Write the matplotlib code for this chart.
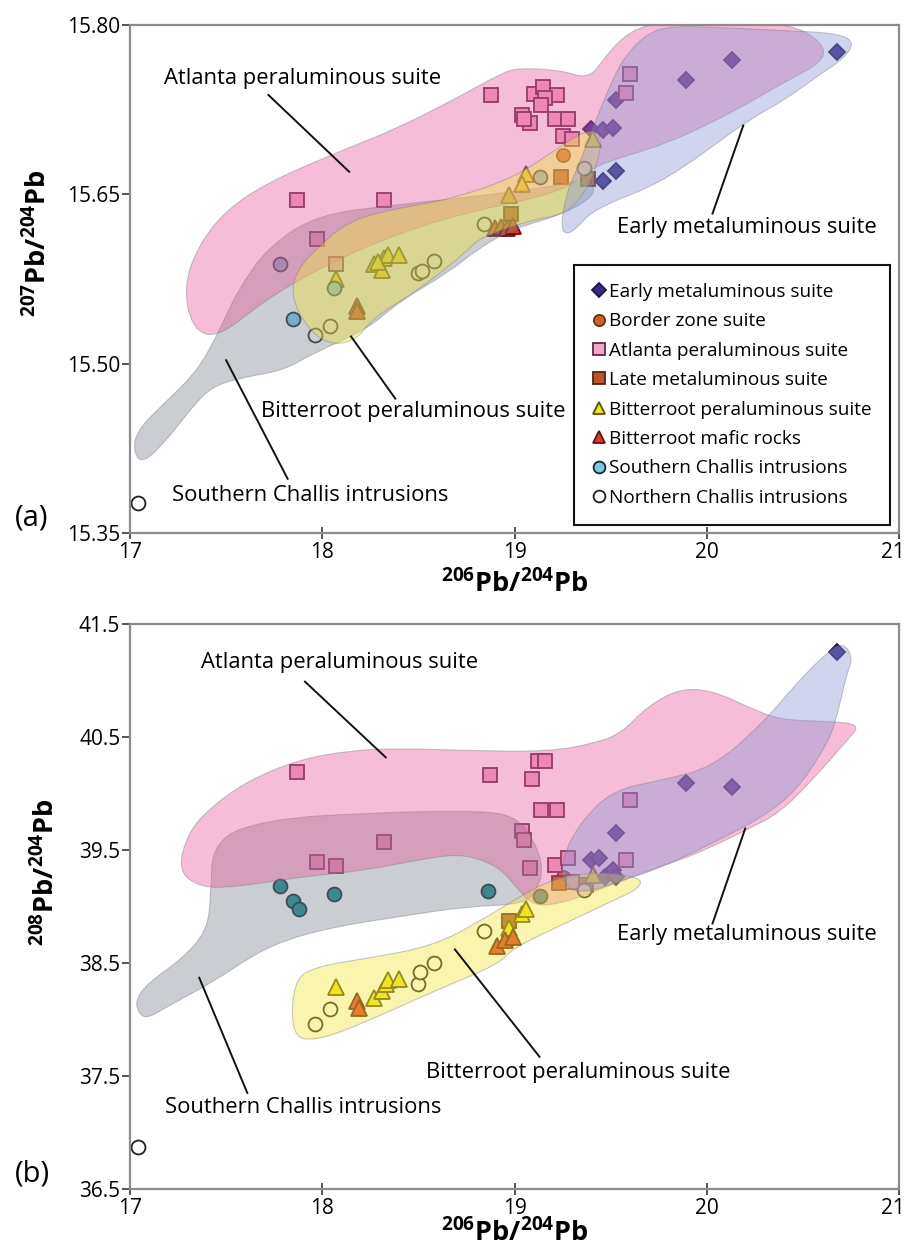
import matplotlib
matplotlib.use("Agg")
import matplotlib.pyplot as plt
import matplotlib.transforms as mtransforms
import numpy as np
from matplotlib.path import Path
from matplotlib.patches import PathPatch

plt.rcParams['font.family'] = ['Open Sans', 'DejaVu Sans']
plt.rcParams['mathtext.fontset'] = 'custom'
plt.rcParams['mathtext.rm'] = 'Open Sans'
plt.rcParams['mathtext.bf'] = 'Open Sans:bold'

# ---------------- data, panel (a): 206Pb/204Pb vs 207Pb/204Pb ----------------
early_a_x = [20.68, 20.13, 19.89, 19.53, 19.40, 19.46, 19.51, 19.53, 19.46]
early_a_y = [15.776, 15.769, 15.751, 15.734, 15.708, 15.707, 15.709, 15.671, 15.662]
border_a_x = [19.25]
border_a_y = [15.685]
atlanta_a_x = [18.88, 17.87, 18.32, 17.97, 18.07, 19.10, 19.15, 19.22, 19.16, 19.14,
               19.04, 19.08, 19.05, 19.21, 19.28, 19.25, 19.30, 19.60, 19.58]
atlanta_a_y = [15.738, 15.645, 15.645, 15.610, 15.588, 15.739, 15.745, 15.738, 15.735, 15.729,
               15.720, 15.713, 15.717, 15.717, 15.717, 15.702, 15.699, 15.757, 15.740]
late_a_x = [19.24, 19.38, 18.98]
late_a_y = [15.665, 15.664, 15.633]
bitter_a_x = [19.06, 19.04, 19.41, 18.97, 18.27, 18.32, 18.34, 18.40, 18.31, 18.29, 18.07]
bitter_a_y = [15.668, 15.659, 15.699, 15.649, 15.588, 15.594, 15.596, 15.596, 15.583, 15.590, 15.575]
mafic_a_x = [18.18, 18.18, 18.90, 18.93, 18.96, 18.99]
mafic_a_y = [15.551, 15.547, 15.620, 15.621, 15.620, 15.622]
schallis_a_x = [17.78, 17.85, 18.06, 19.13]
schallis_a_y = [15.588, 15.540, 15.567, 15.665]
nchallis_a_x = [17.04, 17.96, 18.04, 18.50, 18.52, 18.58, 18.84, 19.36]
nchallis_a_y = [15.377, 15.525, 15.533, 15.580, 15.582, 15.591, 15.624, 15.673]

# ---------------- data, panel (b): 206Pb/204Pb vs 208Pb/204Pb ----------------
early_b_x = [20.68, 19.89, 20.13, 19.53, 19.40, 19.44, 19.47, 19.51, 19.53]
early_b_y = [41.25, 40.09, 40.06, 39.65, 39.41, 39.43, 39.26, 39.32, 39.26]
border_b_x = [19.25]
border_b_y = [39.26]
atlanta_b_x = [17.87, 18.87, 19.09, 19.12, 19.16, 19.14, 19.22, 19.04, 19.05, 19.08,
               18.32, 17.97, 18.07, 19.21, 19.28, 19.60, 19.58, 19.30]
atlanta_b_y = [40.19, 40.16, 40.13, 40.29, 40.29, 39.85, 39.85, 39.67, 39.59, 39.34,
               39.57, 39.39, 39.36, 39.37, 39.43, 39.94, 39.41, 39.22]
late_b_x = [18.97, 19.23, 19.37]
late_b_y = [38.87, 39.21, 39.19]
bitter_b_x = [18.07, 18.27, 18.31, 18.33, 18.34, 18.40, 18.97, 19.04, 19.06, 19.41]
bitter_b_y = [38.29, 38.19, 38.25, 38.31, 38.35, 38.36, 38.81, 38.93, 38.98, 39.28]
mafic_b_x = [18.18, 18.19, 18.91, 18.95, 18.99]
mafic_b_y = [38.16, 38.10, 38.65, 38.70, 38.73]
schallis_b_x = [17.78, 17.85, 17.88, 18.06, 18.86, 19.13]
schallis_b_y = [39.18, 39.05, 38.98, 39.11, 39.14, 39.09]
nchallis_b_x = [17.04, 17.96, 18.04, 18.50, 18.51, 18.58, 18.84, 19.36]
nchallis_b_y = [36.87, 37.96, 38.09, 38.31, 38.42, 38.50, 38.78, 39.15]

# ---------------- field outlines ----------------
pink_a = [(17.28, 15.570), (17.36, 15.606), (17.50, 15.636), (17.71, 15.660), (18.06, 15.686),
          (18.40, 15.709), (18.75, 15.740), (18.92, 15.756), (19.01, 15.762), (19.24, 15.760),
          (19.39, 15.752), (19.48, 15.774), (19.60, 15.795), (19.79, 15.804), (20.22, 15.804),
          (20.49, 15.798), (20.62, 15.780), (20.59, 15.766), (20.40, 15.749), (20.22, 15.731),
          (20.02, 15.713), (19.79, 15.695), (19.56, 15.683), (19.41, 15.674), (19.30, 15.658),
          (19.10, 15.646), (18.80, 15.636), (18.40, 15.616), (18.00, 15.586), (17.70, 15.556),
          (17.45, 15.522), (17.32, 15.532)]
gray_a = [(17.03, 15.440), (17.19, 15.467), (17.33, 15.490), (17.42, 15.514), (17.50, 15.543),
          (17.57, 15.567), (17.71, 15.602), (17.97, 15.632), (18.40, 15.641), (18.84, 15.649),
          (19.20, 15.657), (19.38, 15.664), (19.43, 15.650), (19.25, 15.632), (19.00, 15.620),
          (18.82, 15.603), (18.65, 15.580), (18.40, 15.555), (18.23, 15.530), (17.95, 15.509),
          (17.80, 15.494), (17.59, 15.488), (17.43, 15.480), (17.33, 15.463), (17.19, 15.432),
          (17.07, 15.412), (17.02, 15.420)]
yellow_a = [(17.84, 15.567), (17.88, 15.585), (17.97, 15.602), (18.14, 15.627), (18.40, 15.638),
            (18.65, 15.645), (18.99, 15.664), (19.20, 15.688), (19.38, 15.708), (19.46, 15.702),
            (19.42, 15.670), (19.34, 15.645), (19.25, 15.632), (19.08, 15.627), (18.82, 15.612),
            (18.75, 15.599), (18.49, 15.564), (18.34, 15.549), (18.23, 15.534), (18.20, 15.525),
            (18.09, 15.516), (17.97, 15.523), (17.87, 15.546)]
blue_a = [(19.24, 15.621), (19.27, 15.651), (19.33, 15.674), (19.39, 15.701), (19.48, 15.740),
          (19.56, 15.769), (19.67, 15.790), (19.79, 15.799), (20.05, 15.798), (20.40, 15.795),
          (20.66, 15.793), (20.77, 15.786), (20.72, 15.771), (20.57, 15.754), (20.40, 15.733),
          (20.22, 15.716), (20.05, 15.695), (19.88, 15.674), (19.70, 15.656), (19.53, 15.645),
          (19.39, 15.633), (19.33, 15.621), (19.27, 15.614)]

pink_b = [(17.25, 39.32), (17.30, 39.65), (17.42, 39.88), (17.62, 40.12), (17.88, 40.30),
          (18.14, 40.38), (18.40, 40.40), (18.75, 40.38), (19.18, 40.37), (19.43, 40.45),
          (19.56, 40.54), (19.69, 40.77), (19.86, 40.93), (20.03, 40.91), (20.21, 40.77),
          (20.38, 40.65), (20.64, 40.64), (20.80, 40.61), (20.73, 40.47), (20.55, 40.12),
          (20.38, 39.83), (20.21, 39.68), (20.03, 39.53), (19.86, 39.41), (19.60, 39.26),
          (19.43, 39.14), (19.25, 39.03), (19.10, 39.00), (19.01, 39.17), (18.92, 39.35),
          (18.75, 39.46), (18.58, 39.44), (18.23, 39.32), (17.88, 39.26), (17.54, 39.17),
          (17.36, 39.17)]
gray_b = [(17.02, 38.15), (17.09, 38.32), (17.28, 38.55), (17.40, 38.79), (17.42, 39.08),
          (17.43, 39.59), (17.71, 39.77), (18.23, 39.83), (18.84, 39.85), (19.01, 39.79),
          (19.10, 39.59), (19.15, 39.35), (19.12, 39.15), (19.05, 39.02), (18.75, 39.00),
          (18.40, 38.91), (18.06, 38.82), (17.80, 38.70), (17.62, 38.55), (17.45, 38.35),
          (17.19, 38.11), (17.07, 37.99)]
yellow_b = [(17.84, 37.85), (17.85, 38.35), (17.97, 38.47), (18.23, 38.54), (18.58, 38.65),
            (18.84, 38.89), (19.01, 39.07), (19.18, 39.23), (19.40, 39.31), (19.66, 39.26),
            (19.65, 39.16), (19.51, 39.05), (19.25, 38.84), (18.99, 38.63), (18.92, 38.49),
            (18.58, 38.25), (18.23, 37.98), (17.97, 37.81)]
blue_b = [(19.25, 39.44), (19.34, 39.74), (19.51, 40.03), (19.77, 40.12), (20.03, 40.23),
          (20.29, 40.62), (20.47, 40.98), (20.62, 41.24), (20.71, 41.34), (20.76, 41.20),
          (20.73, 41.07), (20.69, 40.77), (20.64, 40.47), (20.47, 40.03), (20.29, 39.79),
          (20.03, 39.56), (19.77, 39.35), (19.55, 39.22), (19.34, 39.11), (19.25, 39.20)]

labels = ['Early metaluminous suite', 'Border zone suite', 'Atlanta peraluminous suite',
          'Late metaluminous suite', 'Bitterroot peraluminous suite', 'Bitterroot mafic rocks',
          'Southern Challis intrusions', 'Northern Challis intrusions']

field_colors = {'pink': '#e65a9c', 'gray': '#7c838d', 'yellow': '#f2e637', 'blue': '#8a96d4'}


def field(ax, outline, color):
    # smooth closed outline (quadratic curves through edge midpoints)
    pts = np.array(outline)
    mids = (pts + np.roll(pts, -1, axis=0)) / 2
    verts = [mids[-1]]
    codes = [Path.MOVETO]
    for p, m in zip(pts, mids):
        verts += [p, m]
        codes += [Path.CURVE3, Path.CURVE3]
    ax.add_patch(PathPatch(Path(verts, codes), facecolor=color, edgecolor='#7a7a80',
                           lw=0.8, alpha=0.4, zorder=3))


def points(ax, groups, schallis_color):
    styles = [('D', '#3a2a84', '#1c1450', 8.5),
              ('o', '#c9622a', '#6a3010', 9.5),
              ('s', '#f3a6c8', '#5e2848', 10),
              ('s', '#b8582a', '#55250e', 10),
              ('^', '#f2e21e', '#55500e', 11),
              ('^', '#dc3a28', '#601410', 11),
              ('o', schallis_color, '#102a35', 10),
              ('o', 'white', '#202020', 10)]
    handles = []
    for (xs, ys), (m, fc, ec, ms), lab in zip(groups, styles, labels):
        h, = ax.plot(xs, ys, linestyle='none', marker=m, markersize=ms, markerfacecolor=fc,
                     markeredgecolor=ec, markeredgewidth=1.3, label=lab, zorder=2)
        handles.append(h)
    return handles


def style_axes(ax):
    for s in ax.spines.values():
        s.set_color('#8c8c8c')
        s.set_linewidth(1.6)
    ax.set_xlim(17, 21)
    ax.set_xticks([17, 18, 19, 20, 21])
    ax.tick_params(axis='x', direction='inout', length=9, width=1.4, color='#555555',
                   labelsize=15, pad=2)
    ax.tick_params(axis='y', direction='out', length=6, width=1.4, color='#555555',
                   labelsize=15, pad=1)
    # keep the last x label inside the figure edge
    last = ax.get_xticklabels()[-1]
    last.set_transform(last.get_transform() + mtransforms.ScaledTranslation(-6 / 100, 0, fig.dpi_scale_trans))


def annotate(ax, text, tx, ty, line, ha='center'):
    ax.text(tx, ty, text, fontsize=15.8, ha=ha, va='center', zorder=5)
    ax.plot(line[0], line[1], color='#111111', lw=1.4, zorder=5)


fig = plt.figure(figsize=(9.08, 12.5), dpi=100)
ax_a = fig.add_axes([0.1432, 0.5736, 0.8469, 0.4064])
ax_b = fig.add_axes([0.1432, 0.0488, 0.8469, 0.4520])

# ---- panel (a)
handles = points(ax_a, [(early_a_x, early_a_y), (border_a_x, border_a_y), (atlanta_a_x, atlanta_a_y),
                        (late_a_x, late_a_y), (bitter_a_x, bitter_a_y), (mafic_a_x, mafic_a_y),
                        (schallis_a_x, schallis_a_y), (nchallis_a_x, nchallis_a_y)], '#7cc8e2')
field(ax_a, gray_a, field_colors['gray'])
field(ax_a, pink_a, field_colors['pink'])
field(ax_a, yellow_a, field_colors['yellow'])
field(ax_a, blue_a, field_colors['blue'])
style_axes(ax_a)
ax_a.set_ylim(15.35, 15.80)
ax_a.set_yticks([15.35, 15.50, 15.65, 15.80])
ax_a.set_yticklabels(['15.35', '15.50', '15.65', '15.80'])
ax_a.set_xlabel(r'$\mathbf{^{206}Pb/^{204}Pb}$', fontsize=19.5, labelpad=5)
ax_a.set_ylabel(r'$\mathbf{^{207}Pb/^{204}Pb}$', fontsize=19.5)
ax_a.yaxis.set_label_coords(-0.10, 0.57)

annotate(ax_a, 'Atlanta peraluminous suite', 17.90, 15.753, ([17.72, 18.14], [15.738, 15.670]))
annotate(ax_a, 'Early metaluminous suite', 20.21, 15.621, ([20.03, 20.19], [15.633, 15.711]))
annotate(ax_a, 'Bitterroot peraluminous suite', 17.68, 15.458, ([18.38, 18.15], [15.469, 15.524]), ha='left')
annotate(ax_a, 'Southern Challis intrusions', 17.22, 15.383, ([17.82, 17.50], [15.398, 15.503]), ha='left')

leg = ax_a.legend(handles=handles, loc='lower right', bbox_to_anchor=(0.988, 0.016),
                  borderaxespad=0, fontsize=13.7, markerscale=0.85, handlelength=0.7,
                  handletextpad=0.2, labelspacing=0.6, borderpad=0.95, fancybox=False,
                  framealpha=1, edgecolor='#111111')
leg.get_frame().set_linewidth(1.5)
leg.set_zorder(6)

# ---- panel (b)
points(ax_b, [(early_b_x, early_b_y), (border_b_x, border_b_y), (atlanta_b_x, atlanta_b_y),
              (late_b_x, late_b_y), (bitter_b_x, bitter_b_y), (mafic_b_x, mafic_b_y),
              (schallis_b_x, schallis_b_y), (nchallis_b_x, nchallis_b_y)], '#138c8c')
field(ax_b, gray_b, field_colors['gray'])
field(ax_b, pink_b, field_colors['pink'])
field(ax_b, yellow_b, field_colors['yellow'])
field(ax_b, blue_b, field_colors['blue'])
style_axes(ax_b)
ax_b.set_ylim(36.5, 41.5)
ax_b.set_yticks([36.5, 37.5, 38.5, 39.5, 40.5, 41.5])
ax_b.set_yticklabels(['36.5', '37.5', '38.5', '39.5', '40.5', '41.5'])
ax_b.set_xlabel(r'$\mathbf{^{206}Pb/^{204}Pb}$', fontsize=19.5, labelpad=0)
ax_b.set_ylabel(r'$\mathbf{^{208}Pb/^{204}Pb}$', fontsize=19.5)
ax_b.yaxis.set_label_coords(-0.09, 0.56)

annotate(ax_b, 'Atlanta peraluminous suite', 18.09, 41.155, ([17.91, 18.33], [40.99, 40.32]))
annotate(ax_b, 'Early metaluminous suite', 20.21, 38.75, ([20.20, 20.03], [39.69, 38.85]))
annotate(ax_b, 'Bitterroot peraluminous suite', 18.54, 37.53, ([18.69, 19.13], [38.62, 37.67]), ha='left')
annotate(ax_b, 'Southern Challis intrusions', 17.18, 37.22, ([17.36, 17.61], [38.37, 37.35]), ha='left')

fig.text(15 / 908, 1 - 518 / 1250, '(a)', fontsize=21, va='center', ha='left')
fig.text(15 / 908, 1 - 1174 / 1250, '(b)', fontsize=21, va='center', ha='left')

fig.savefig('out.png', dpi=100)
